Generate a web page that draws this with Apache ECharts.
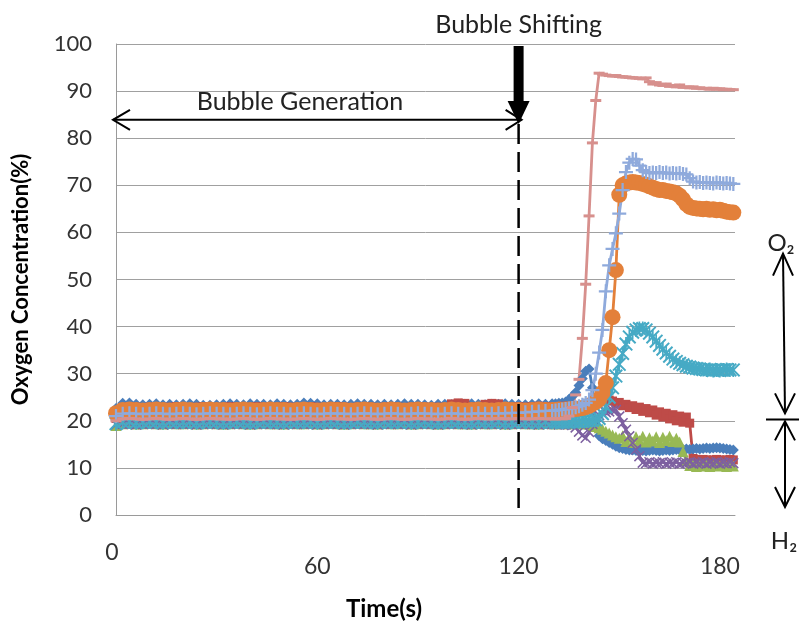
<!DOCTYPE html>
<html><head><meta charset="utf-8">
<script src="https://cdn.jsdelivr.net/npm/echarts@6/dist/echarts.min.js"></script>
<style>html,body{margin:0;padding:0;background:#fff}#c{width:799px;height:627px}</style>
</head><body><div id="c"></div>
<script>
// time (s)
const time = [0,2,4,6,8,10,12,14,16,18,20,22,24,26,28,30,32,34,36,38,40,42,44,46,48,50,52,54,56,58,60,62,64,66,68,70,72,74,76,78,80,82,84,86,88,90,92,94,96,98,100,102,104,106,108,110,112,114,116,118,120,122,124,126,128,130,
131,132,133,134,135,136,137,138,139,140,141,142,143,144,145,146,147,148,149,150,151,152,153,154,155,156,157,158,159,160,161,162,163,164,165,166,167,168,169,170,171,172,173,174,175,176,177,178,179,180,181,182,183,184];

const blueVals = [22.6,23.7,23.8,23.5,23.4,23.5,23.6,23.4,23.5,23.4,
23.5,23.6,23.5,23.3,23.3,23.4,23.5,23.6,23.5,23.4,
23.6,23.5,23.5,23.4,23.6,23.5,23.4,23.5,23.8,23.7,
23.6,23.4,23.5,23.5,23.4,23.5,23.6,23.5,23.5,23.4,
23.5,23.4,23.5,23.6,23.5,23.5,23.4,23.3,23.5,23.5,
23.4,23.5,23.5,23.6,23.5,23.4,23.5,23.5,23.6,23.5,
23.5,23.4,23.5,23.6,23.5,23.6,
23.6,23.7,23.8,24.0,24.5,25.2,26.0,27.5,29.0,30.5,
31.0,27.0,19.0,16.8,16.2,15.8,15.4,15.0,14.6,14.3,
14.1,13.9,13.8,13.8,13.7,13.8,13.7,13.6,13.7,13.8,
13.7,13.6,13.7,13.8,13.7,13.8,13.9,13.8,13.9,14.0,
13.9,14.0,14.1,14.0,14.1,14.2,14.1,14.2,14.3,14.2,
14.1,14.0,13.9,13.8];

const redVals = [20.5,22.8,23.0,22.9,22.8,22.9,23.0,22.8,22.9,23.0,
22.9,22.8,22.9,23.0,22.9,22.8,22.9,23.0,22.9,22.8,
22.9,23.0,22.9,22.8,22.9,23.0,22.9,22.8,22.9,23.0,
22.9,22.8,22.9,23.0,22.9,22.8,22.9,23.0,22.9,22.8,
22.9,23.0,22.9,22.8,22.9,23.0,22.9,22.8,22.9,22.8,
23.6,23.8,23.7,23.0,22.9,23.5,23.7,23.6,23.0,22.9,
23.0,22.9,23.0,23.1,23.0,23.0,
23.0,23.0,23.1,23.0,23.1,23.0,23.1,23.2,23.1,23.2,
23.3,23.4,23.6,24.0,24.3,24.5,24.4,24.2,23.6,23.9,
23.2,23.5,22.8,23.2,22.4,22.9,22.0,22.6,21.7,22.3,
21.2,21.9,20.8,21.6,20.4,21.3,20.0,21.0,19.7,20.8,
19.5,12.0,11.8,11.6,11.8,11.7,11.6,11.7,11.8,11.7,11.6,11.7,11.8,11.7];

const greenVals = [19.0,19.4,19.5,19.3,19.4,19.5,19.4,19.3,19.5,19.4,
19.4,19.5,19.3,19.4,19.5,19.4,19.3,19.4,19.5,19.4,
19.3,19.4,19.5,19.4,19.4,19.3,19.5,19.4,19.4,19.5,
19.3,19.4,19.5,19.4,19.3,19.4,19.5,19.4,19.4,19.3,
19.5,19.4,19.4,19.5,19.3,19.4,19.5,19.4,19.3,19.4,
19.5,19.4,19.4,19.3,19.5,19.4,19.4,19.5,19.3,19.4,
19.5,19.4,19.4,19.3,19.5,19.4,
19.4,19.5,19.4,19.5,19.4,19.5,19.4,19.5,19.4,19.4,
19.3,19.0,18.8,18.5,18.2,17.8,17.4,17.0,16.6,16.3,
16.8,15.6,16.5,15.4,16.6,15.8,16.7,15.5,16.4,15.7,
16.6,15.4,16.5,15.8,16.7,15.6,16.3,15.5,13.5,11.5,
10.5,10.8,10.3,10.6,10.4,10.7,10.3,10.5,10.6,10.4,10.5,10.3,10.6,10.4];

const purpleVals = [19.2,19.3,19.4,19.2,19.3,19.4,19.3,19.2,19.4,19.3,
19.3,19.4,19.2,19.3,19.4,19.3,19.2,19.3,19.4,19.3,
19.2,19.3,19.4,19.3,19.3,19.2,19.4,19.3,19.3,19.4,
19.2,19.3,19.4,19.3,19.2,19.3,19.4,19.3,19.3,19.2,
19.4,19.3,19.3,19.4,19.2,19.3,19.4,19.3,19.2,19.3,
19.4,19.3,19.3,19.2,19.4,19.3,19.3,19.4,19.2,19.3,
19.4,19.3,19.3,19.2,19.3,19.3,
19.3,19.2,19.3,19.2,19.3,19.1,18.6,17.7,16.9,16.4,
17.6,19.3,20.8,21.2,21.5,21.8,22.0,22.2,22.3,20.9,
19.5,18.1,16.7,15.3,13.9,12.5,11.1,11.0,11.2,10.9,
11.1,11.0,11.2,10.9,11.1,11.0,11.2,10.9,11.1,11.0,
11.2,10.9,11.1,11.0,11.2,10.9,11.1,11.0,11.2,10.9,11.1,11.0,11.2,11.0];

const tealVals = [19.4,19.7,19.8,19.6,19.7,19.8,19.7,19.6,19.8,19.7,
19.7,19.8,19.6,19.7,19.8,19.7,19.6,19.7,19.8,19.7,
19.6,19.7,19.8,19.7,19.7,19.6,19.8,19.7,19.7,19.8,
19.6,19.7,19.8,19.7,19.6,19.7,19.8,19.7,19.7,19.6,
19.8,19.7,19.7,19.8,19.6,19.7,19.8,19.7,19.6,19.7,
19.8,19.7,19.7,19.6,19.8,19.7,19.7,19.8,19.6,19.7,
19.8,19.7,19.7,19.6,19.8,19.7,
19.7,19.8,19.7,19.8,19.7,19.8,19.9,19.8,19.9,20.0,
20.0,20.1,20.2,20.5,21.5,23.0,25.0,27.0,29.5,32.0,
34.3,36.3,37.8,38.8,39.3,39.6,39.6,39.3,38.6,37.8,
36.9,36.0,35.2,34.4,33.7,33.1,32.6,32.2,31.9,31.6,
31.4,31.2,31.1,31.0,30.9,30.8,30.9,30.7,30.8,30.7,30.8,30.9,30.8,30.8];

const orangeVals = [21.6,22.3,22.4,22.3,22.2,22.3,22.4,22.3,22.2,22.3,
22.4,22.3,22.2,22.3,22.4,22.3,22.3,22.2,22.3,22.4,
22.3,22.2,22.3,22.4,22.3,22.3,22.2,22.3,22.4,22.3,
22.2,22.3,22.4,22.3,22.3,22.2,22.3,22.4,22.3,22.2,
22.3,22.4,22.3,22.2,22.3,22.4,22.3,22.3,22.2,22.3,
22.4,22.3,22.2,22.3,22.4,22.3,22.2,22.3,22.4,22.3,
22.3,22.2,22.3,22.4,22.3,22.3,
22.3,22.4,22.3,22.4,22.4,22.5,22.5,22.6,22.7,22.9,
23.2,23.6,24.0,24.6,26.0,28.0,35.0,42.0,52.0,68.0,
70.0,70.4,70.6,70.7,70.6,70.5,70.3,70.1,69.8,69.5,
69.2,69.0,69.0,68.8,68.7,68.5,68.3,67.8,67.0,66.0,
65.4,65.2,65.1,65.0,64.9,65.0,64.8,64.9,64.7,64.8,64.6,64.4,64.3,64.2];

const lightBlueVals = [21.0,21.5,21.6,21.5,21.4,21.5,21.6,21.5,21.4,21.5,
21.6,21.5,21.4,21.5,21.6,21.5,21.5,21.4,21.5,21.6,
21.5,21.4,21.5,21.6,21.5,21.5,21.4,21.5,21.6,21.5,
21.4,21.5,21.6,21.5,21.5,21.4,21.5,21.6,21.5,21.4,
21.5,21.6,21.5,21.4,21.5,21.6,21.5,21.5,21.4,21.5,
21.6,21.5,21.4,21.5,21.6,21.5,21.5,21.6,21.6,21.7,
21.7,21.8,21.9,22.0,22.1,22.1,
22.2,22.3,22.4,22.5,22.6,22.7,22.9,23.1,23.4,23.8,
24.5,26.5,30.0,34.5,39.3,47.5,53.0,56.5,59.8,64.0,
69.0,72.8,74.8,75.6,75.5,74.2,73.2,72.8,72.6,72.7,
72.6,72.8,72.6,72.7,72.5,72.6,72.5,72.6,72.4,72.3,
71.5,70.8,70.6,70.7,70.5,70.6,70.5,70.4,70.6,70.5,70.4,70.5,70.4,70.3];

const pinkVals = [20.0,20.4,20.5,20.4,20.3,20.4,20.5,20.4,20.3,20.4,
20.5,20.4,20.3,20.4,20.5,20.4,20.4,20.3,20.4,20.5,
20.4,20.3,20.4,20.5,20.4,20.4,20.3,20.4,20.5,20.4,
20.3,20.4,20.5,20.4,20.4,20.3,20.4,20.5,20.4,20.3,
20.4,20.5,20.4,20.3,20.4,20.5,20.4,20.4,20.3,20.4,
20.5,20.4,20.3,20.4,20.5,20.4,20.4,20.5,20.4,20.4,
20.5,20.4,20.4,20.5,20.4,20.4,
20.4,20.5,20.4,20.5,21.0,22.8,25.5,28.8,37.5,49.0,
63.5,79.0,88.0,93.8,93.6,93.4,93.3,93.2,93.3,93.1,
93.0,93.0,92.9,92.8,92.8,92.7,92.6,92.8,92.0,91.5,
91.8,91.3,91.2,91.5,91.0,91.2,90.9,91.3,90.8,90.9,
90.7,90.9,90.6,90.7,90.5,90.6,90.4,90.6,90.4,90.5,90.3,90.4,90.3,90.3];

const xTickLabels = [0, 60, 120, 180];

const FONT = 'Lato, "Open Sans", sans-serif';
const SYM_X = 'path://M1,0 L5,4 L9,0 L10,1 L6,5 L10,9 L9,10 L5,6 L1,10 L0,9 L4,5 L0,1 Z';
const SYM_PLUS = 'path://M4.2,0 H5.8 V4.2 H10 V5.8 H5.8 V10 H4.2 V5.8 H0 V4.2 H4.2 Z';
const SYM_STAR = 'path://M1,0 L10,9 L9,10 L0,1 Z M9,0 L10,1 L1,10 L0,9 Z M4.4,0 H5.6 V10 H4.4 Z';

function mk(name, vals, color, symbol, size) {
  return {
    name, type: 'line',
    data: time.map((t, i) => [t, vals[i]]),
    symbol, symbolSize: size, showSymbol: true,
    lineStyle: { color, width: 2.8 },
    itemStyle: { color, borderWidth: 0 },
    emphasis: { disabled: true },
    clip: true
  };
}

const chart = echarts.init(document.getElementById('c'), null, { renderer: 'canvas' });
chart.setOption({
  animation: false,
  backgroundColor: '#fff',
  textStyle: { fontFamily: FONT },
  grid: { left: 116, right: 64, top: 44, bottom: 112 },
  xAxis: {
    type: 'value', min: 0, max: 184.5,
    name: 'Time(s)', nameLocation: 'middle', nameGap: 82,
    nameTextStyle: { fontFamily: FONT, fontSize: 24, fontWeight: 'bold', color: '#000', padding: [0, 83, 0, 0] },
    axisLine: { show: true, lineStyle: { color: '#9a9a9a', width: 1 } },
    axisTick: { show: false },
    splitLine: { show: false },
    axisLabel: {
      customValues: xTickLabels,
      margin: 26,
      fontFamily: FONT, fontSize: 23, color: '#333',
      formatter: v => v === 0 ? '{z|0}' : '{n|' + v + '}',
      rich: {
        z: { fontFamily: FONT, fontSize: 23, color: '#333', padding: [0, 8, 0, 0] },
        n: { fontFamily: FONT, fontSize: 23, color: '#333', padding: [14, 0, 0, 0] }
      }
    }
  },
  yAxis: {
    type: 'value', min: 0, max: 100, interval: 10,
    name: 'Oxygen Concentration(%)', nameLocation: 'middle', nameGap: 84,
    nameTextStyle: { fontFamily: FONT, fontSize: 22, fontWeight: 'bold', color: '#000' },
    axisLine: { show: true, lineStyle: { color: '#9a9a9a', width: 1 } },
    axisTick: { show: false },
    splitLine: { show: true, lineStyle: { color: '#a0a0a0', width: 1 } },
    axisLabel: { margin: 24, fontFamily: FONT, fontSize: 22, color: '#333' }
  },
  series: [
    mk('S1', blueVals, '#4A7EBB', 'diamond', 11),
    mk('S2', redVals, '#BE4B48', 'rect', 9),
    mk('S3', greenVals, '#98B954', 'triangle', 11),
    mk('S4', purpleVals, '#7D60A0', SYM_X, 11),
    mk('S5', tealVals, '#46AAC5', SYM_STAR, 14),
    mk('S6', orangeVals, '#E3803A', 'circle', 16),
    mk('S7', lightBlueVals, '#8FAADC', SYM_PLUS, 14),
    mk('S8', pinkVals, '#D7908D', 'rect', [11, 3])
  ]
});

const px = (x, y) => chart.convertToPixel({ xAxisIndex: 0, yAxisIndex: 0 }, [x, y]);
const xs = px(120, 0)[0];
const yBase = px(0, 0)[1];
const yGen = px(0, 83.9)[1];
const y20 = px(0, 20.3)[1];
const yTop = px(0, 55.5)[1];
const yBot = px(0, 1.7)[1];
const ink = { stroke: '#000', lineWidth: 2, fill: null };
const txt = (text, x, y, size) => ({ type: 'text', x, y, style: { text, font: (size || 25) + 'px ' + FONT, fill: '#222', textAlign: 'center', textVerticalAlign: 'middle' }, z: 100 });
const pl = (points) => ({ type: 'polyline', shape: { points }, style: ink, z: 100 });
const ln = (x1, y1, x2, y2, extra) => ({ type: 'line', shape: { x1, y1, x2, y2 }, style: Object.assign({}, ink, extra || {}), z: 100 });

chart.setOption({
  graphic: [
    txt('Bubble Shifting', xs, 25),
    { type: 'rect', shape: { x: xs - 5, y: 46, width: 10, height: 58 }, style: { fill: '#000' }, z: 100 },
    { type: 'polygon', shape: { points: [[xs - 11, 101], [xs + 11, 101], [xs, 124]] }, style: { fill: '#000' }, z: 100 },
    ln(xs, 124, xs, yBase, { lineWidth: 2.5, lineDash: [20, 8] }),
    ln(113, yGen, xs + 3, yGen),
    pl([[130, yGen - 10], [113, yGen], [130, yGen + 10]]),
    pl([[xs - 13, yGen - 10], [xs + 3, yGen], [xs - 13, yGen + 10]]),
    txt('Bubble Generation', 300, 102),
    ln(766, y20, 799, y20),
    ln(783, yTop, 785, y20 - 6),
    pl([[773, yTop + 22], [783, yTop], [793, yTop + 22]]),
    pl([[775, y20 - 26], [785, y20 - 6], [795, y20 - 26]]),
    ln(785, y20 + 2, 785, yBot),
    pl([[775, y20 + 21], [785, y20 + 2], [795, y20 + 21]]),
    pl([[775, yBot - 20], [785, yBot], [795, yBot - 20]]),
    txt('O\u2082', 781, 243, 24),
    txt('H\u2082', 784, 541, 24)
  ]
});
</script>
</body></html>
